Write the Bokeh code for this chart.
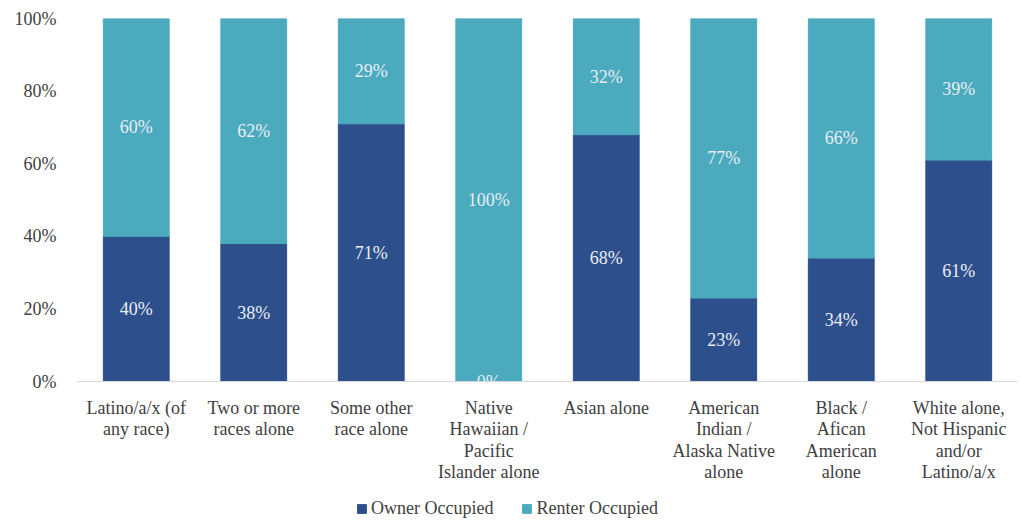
from bokeh.plotting import figure
from bokeh.models import ColumnDataSource, Legend, LegendItem, FixedTicker, Range1d, Span
from bokeh.core.properties import value
from bokeh.embed import file_html
from bokeh.resources import INLINE

category_labels = [
    "Latino/a/x (of\nany race)",
    "Two or more\nraces alone",
    "Some other\nrace alone",
    "Native\nHawaiian /\nPacific\nIslander alone",
    "Asian alone",
    "American\nIndian /\nAlaska Native\nalone",
    "Black /\nAfican\nAmerican\nalone",
    "White alone,\nNot Hispanic\nand/or\nLatino/a/x",
]
owner = [40, 38, 71, 0, 68, 23, 34, 61]
renter = [60, 62, 29, 100, 32, 77, 66, 39]
series_names = ["Owner Occupied", "Renter Occupied"]
y_ticks = [0, 20, 40, 60, 80, 100]

OWNER_C = "#2D4F8B"
RENTER_C = "#4BAABE"
FONT = "Liberation Serif"
TEXT_C = "#404040"

# layout: plot area of 100% spans 363px; extra room below for category labels + legend
PX_PER_100 = 363
FRAME_H = 508
Y_START = -(FRAME_H - PX_PER_100) / PX_PER_100 * 100
LABEL_Y = -16 / PX_PER_100 * 100

n = len(category_labels)
xs = [i + 0.5 for i in range(n)]
src = ColumnDataSource(dict(
    x=xs,
    o_top=owner,
    r_bot=owner,
    r_top=[o + r for o, r in zip(owner, renter)],
    o_mid=[o / 2 for o in owner],
    r_mid=[o + r / 2 for o, r in zip(owner, renter)],
    o_lab=[f"{o}%" for o in owner],
    r_lab=[f"{r}%" for r in renter],
))
cat_src = ColumnDataSource(dict(x=xs, y=[LABEL_Y] * n, text=category_labels))

p = figure(x_range=Range1d(0, n), y_range=Range1d(Y_START, 100),
           frame_width=940, frame_height=FRAME_H, output_backend="svg", toolbar_location=None,
           min_border_left=77, min_border_right=3, min_border_top=18, min_border_bottom=3)
p.outline_line_color = None
p.grid.visible = False
p.xaxis.visible = False

ob = p.vbar(x="x", top="o_top", bottom=0, width=0.56, source=src,
            fill_color=OWNER_C, line_color=OWNER_C)
rb = p.vbar(x="x", top="r_top", bottom="r_bot", width=0.56, source=src,
            fill_color=RENTER_C, line_color=RENTER_C)

p.text(x="x", y="o_mid", text="o_lab", source=src, text_align="center", text_baseline="middle",
       text_font=value(FONT), text_font_size="18px", text_color="#E8EEF4")
p.text(x="x", y="r_mid", text="r_lab", source=src, text_align="center", text_baseline="middle",
       text_font=value(FONT), text_font_size="18px", text_color="#E8EEF4")

# area below the 0% baseline is outside the plot area: mask overflowing labels
p.quad(left=0, right=n, bottom=Y_START, top=0, fill_color="white", line_color=None)
p.add_layout(Span(location=0, dimension="width", line_color="#D9D9D9", line_width=1))

p.text(x="x", y="y", text="text", source=cat_src, text_align="center", text_baseline="top",
       text_font=value(FONT), text_font_size="18px", text_color=TEXT_C, text_line_height=1.08)

p.yaxis.ticker = FixedTicker(ticks=y_ticks)
p.yaxis.major_label_overrides = {t: f"{t}%" for t in y_ticks}
p.yaxis.axis_line_color = None
p.yaxis.major_tick_line_color = None
p.yaxis.minor_tick_line_color = None
p.yaxis.major_label_text_font = FONT
p.yaxis.major_label_text_font_size = "18px"
p.yaxis.major_label_text_color = TEXT_C
p.yaxis.major_label_standoff = 15

legend = Legend(items=[LegendItem(label=series_names[0], renderers=[ob]),
                       LegendItem(label=series_names[1], renderers=[rb])],
                orientation="horizontal", location=(279, 7),
                label_text_font=FONT, label_text_font_size="18px", label_text_color=TEXT_C,
                glyph_width=11, glyph_height=11, spacing=28, label_standoff=4,
                border_line_color=None, background_fill_alpha=0, margin=0, padding=4)
p.add_layout(legend, "center")

open("out.html", "w").write(file_html(p, INLINE))
